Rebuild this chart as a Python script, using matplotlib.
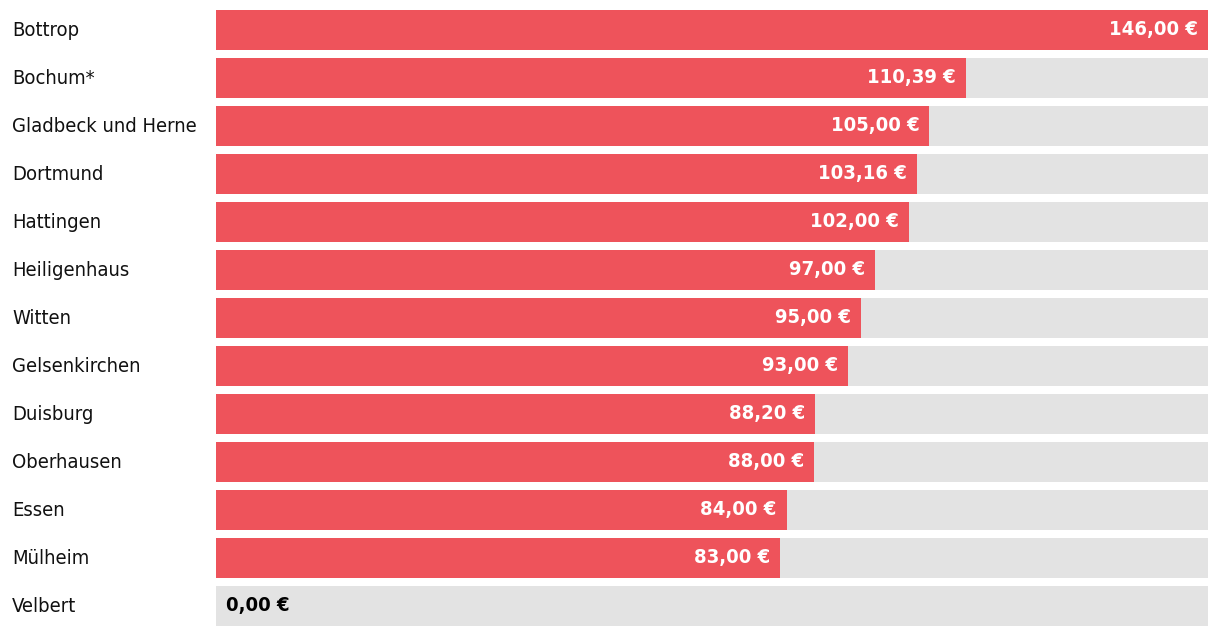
import matplotlib
matplotlib.use("Agg")
import matplotlib.pyplot as plt

cities = ["Bottrop", "Bochum*", "Gladbeck und Herne", "Dortmund", "Hattingen",
          "Heiligenhaus", "Witten", "Gelsenkirchen", "Duisburg", "Oberhausen",
          "Essen", "Mülheim", "Velbert"]
values = [146.00, 110.39, 105.00, 103.16, 102.00, 97.00, 95.00, 93.00,
          88.20, 88.00, 84.00, 83.00, 0.00]

RED = "#EE535B"
GRAY = "#E3E3E3"
plt.rcParams["font.family"] = ["DejaVu Sans"]
plt.rcParams["font.stretch"] = "condensed"


def fmt(v):
    return f"{v:.2f}".replace(".", ",") + " €"


def main():
    W, H = 1220, 636
    fig = plt.figure(figsize=(W / 100, H / 100), dpi=100)
    ax = fig.add_axes([216 / W, 0, 992 / W, 1])
    vmax = max(values)
    y = list(range(len(cities)))
    h = 40 / 48

    ax.barh(y, [vmax] * len(y), height=h, color=GRAY, zorder=1)
    ax.barh(y, values, height=h, color=RED, zorder=2)

    pad = vmax * 10 / 992
    for yi, name, v in zip(y, cities, values):
        ax.text(-216 / 992 * vmax + vmax * 12 / 992, yi, name, ha="left", va="center",
                fontsize=14.5, color="#111111", clip_on=False, stretch="condensed")
        if v > 0:
            ax.text(v - pad, yi, fmt(v), ha="right", va="center", fontsize=14.5,
                    fontweight="bold", color="white", zorder=3, stretch="condensed")
        else:
            ax.text(pad, yi, fmt(v), ha="left", va="center", fontsize=14.5,
                    fontweight="bold", color="black", zorder=3, stretch="condensed")

    ax.set_xlim(0, vmax)
    ax.set_ylim(len(y) - 1 + h / 2 + 10 / 48, -h / 2 - 10 / 48)
    ax.axis("off")
    fig.savefig("out.png", dpi=100)


if __name__ == "__main__":
    main()
